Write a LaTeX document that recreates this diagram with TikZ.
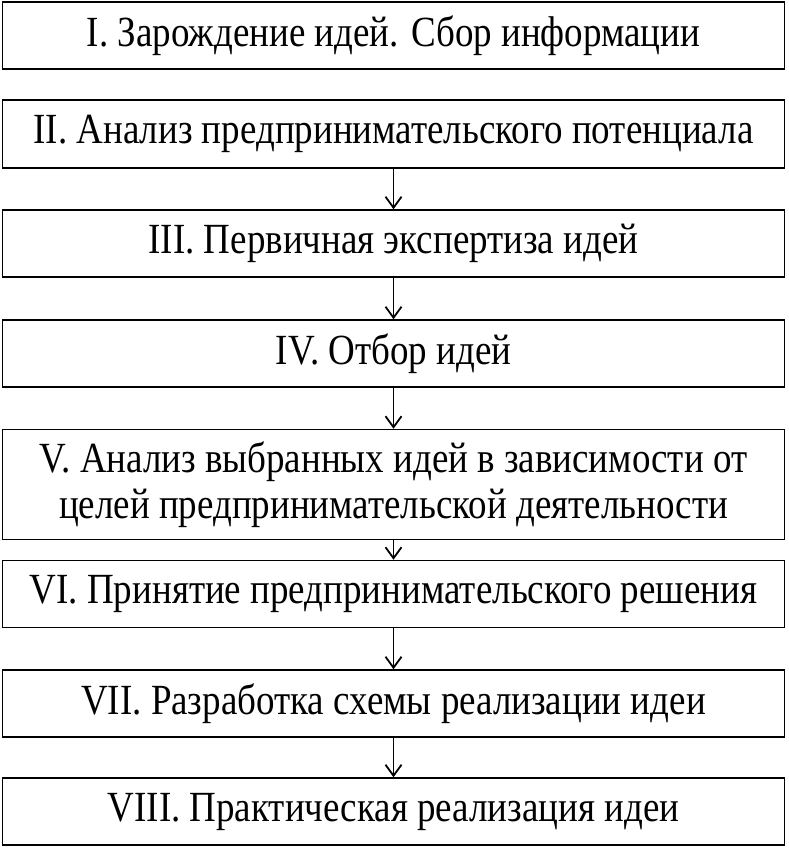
\documentclass[tikz,border=0pt]{standalone}
\usepackage{fontspec}
\setmainfont{Liberation Serif}[FakeStretch=0.86]
\usetikzlibrary{arrows.meta}
\begin{document}
\begin{tikzpicture}[x=1pt,y=-1pt,
  stepbox/.style={draw,line width=1.5pt,minimum width=782pt,inner sep=0pt,align=center,font=\fontsize{43}{46}\selectfont},
  flow/.style={line width=1.5pt,-{Straight Barb[length=11pt,width=16pt,line width=1.8pt]}}]
\useasboundingbox (0,0) rectangle (788,848);
\node[stepbox,minimum height=67pt] (b1) at (393.5,35.5) {I. Зарождение идей. Сбор информации};
\node[stepbox,minimum height=68pt] (b2) at (393.5,134) {II. Анализ предпринимательского потенциала};
\node[stepbox,minimum height=67pt] (b3) at (393.5,243.5) {III. Первичная экспертиза идей};
\node[stepbox,minimum height=67pt] (b4) at (393.5,353.5) {IV. Отбор идей};
\node[stepbox,minimum height=110pt] (b5) at (393.5,484.5) {V. Анализ выбранных идей в зависимости от\\целей предпринимательской деятельности};
\node[stepbox,minimum height=67pt] (b6) at (393.5,594) {VI. Принятие предпринимательского решения};
\node[stepbox,minimum height=67pt] (b7) at (393.5,703.5) {VII. Разработка схемы реализации идеи};
\node[stepbox,minimum height=67pt] (b8) at (393.5,811.5) {VIII. Практическая реализация идеи};
\draw[flow] (b2.south) -- (b3.north);
\draw[flow] (b3.south) -- (b4.north);
\draw[flow] (b4.south) -- (b5.north);
\draw[flow] (b5.south) -- (b6.north);
\draw[flow] (b6.south) -- (b7.north);
\draw[flow] (b7.south) -- (b8.north);
\end{tikzpicture}
\end{document}
